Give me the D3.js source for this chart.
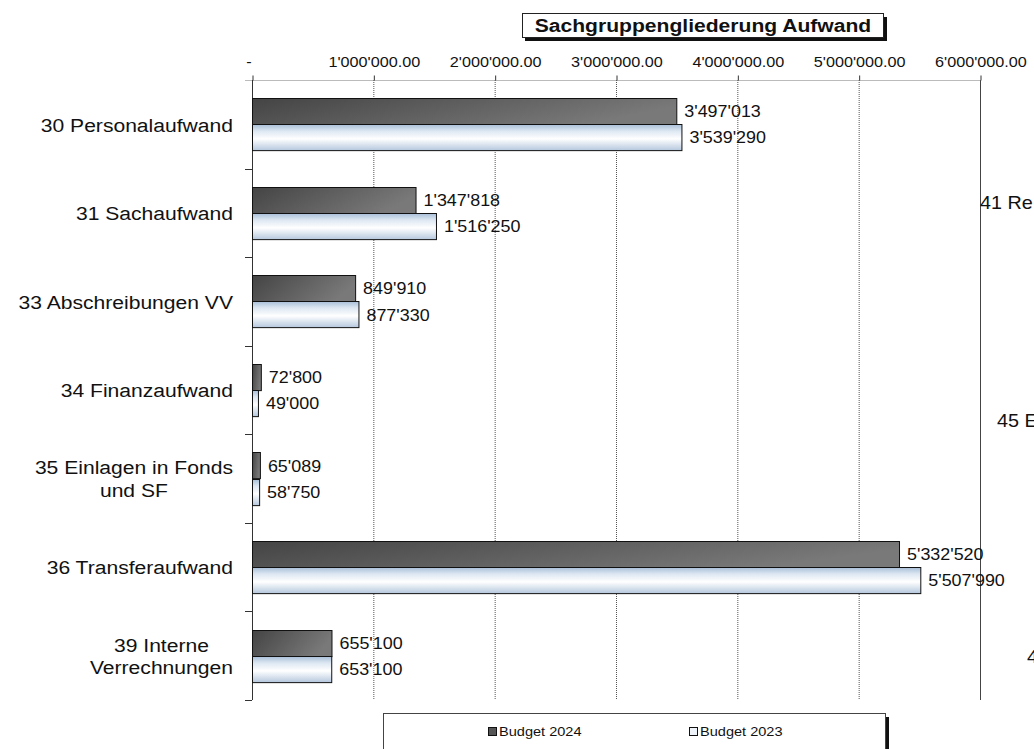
<!DOCTYPE html>
<meta charset="utf-8">
<html>
<head>
<style>
  body { margin: 0; background: #fff; }
  svg { display: block; }
  text { font-family: "Liberation Sans", Arial, sans-serif; fill: #111; }
</style>
<script src="https://d3js.org/d3.v7.min.js"></script>
</head>
<body>
<svg width="1034" height="749"></svg>
<script>
var categories = ["30 Personalaufwand", "31 Sachaufwand", "33 Abschreibungen VV", "34 Finanzaufwand",
  "35 Einlagen in Fonds|und SF", "36 Transferaufwand", "39 Interne|Verrechnungen"];
var budget2024 = [3497013, 1347818, 849910, 72800, 65089, 5332520, 655100];
var budget2023 = [3539290, 1516250, 877330, 49000, 58750, 5507990, 653100];
var seriesNames = ["Budget 2024", "Budget 2023"];
var xTicks = [0, 1000000, 2000000, 3000000, 4000000, 5000000, 6000000];
var sideLabels = [["41 Re", 980, 209], ["45 E", 997, 427], ["4", 1027, 663]];

var svg = d3.select("svg");
var plotL = 252, plotR = 980, plotT = 80, plotB = 700;
var SX = 1.1; // the source text is a bit wider than Liberation Sans

// stretch text horizontally around its own x/y
function stretch(sel, s) {
  sel.each(function() {
    var t = d3.select(this);
    var tx = +t.attr("x") || 0, ty = +t.attr("y") || 0;
    t.attr("transform", "translate(" + tx + "," + ty + ") scale(" + s + ",1) translate(" + (-tx) + "," + (-ty) + ")");
  });
}

var x = d3.scaleLinear().domain([0, 6000000]).range([plotL, plotR]);
var y = d3.scaleBand().domain(categories).range([plotT, plotB]).paddingInner(0.41).paddingOuter(0.205);

var fmt = function(v) { return d3.format(",")(v).replace(/,/g, "'"); };
var tickFmt = function(v) { return v === 0 ? "-" : d3.format(",.2f")(v).replace(/,/g, "'"); };

// gradients
var defs = svg.append("defs");
var gDark = defs.append("linearGradient").attr("id", "gDark").attr("x1", 0).attr("x2", 1).attr("y1", 0).attr("y2", 0.3);
gDark.append("stop").attr("offset", "0%").attr("stop-color", "#444");
gDark.append("stop").attr("offset", "100%").attr("stop-color", "#797979");
var gLight = defs.append("linearGradient").attr("id", "gLight").attr("x1", 0).attr("x2", 0).attr("y1", 0).attr("y2", 1);
gLight.append("stop").attr("offset", "0%").attr("stop-color", "#a9bfd8");
gLight.append("stop").attr("offset", "25%").attr("stop-color", "#dde7f2");
gLight.append("stop").attr("offset", "55%").attr("stop-color", "#ffffff");
gLight.append("stop").attr("offset", "100%").attr("stop-color", "#b4c7dd");

// gridlines
svg.append("g").selectAll("line").data(xTicks.slice(1)).enter().append("line")
  .attr("x1", d => x(d) + 0.5).attr("x2", d => x(d) + 0.5)
  .attr("y1", plotT).attr("y2", plotB)
  .attr("stroke", d => d === 6000000 ? "#444" : "#555")
  .attr("stroke-width", 1)
  .attr("stroke-dasharray", d => d === 6000000 ? null : "1,1");

// top axis
var xAxis = d3.axisTop(x).tickValues(xTicks).tickFormat(tickFmt).tickSize(5).tickPadding(9);
var gx = svg.append("g").attr("transform", "translate(0.5," + (plotT + 0.5) + ")").call(xAxis);
gx.select(".domain").attr("stroke", "#777").attr("stroke-dasharray", "1,1").attr("d", "M" + (plotL - 7) + ",0H" + plotR);
gx.selectAll(".tick line").attr("stroke", "#333");
gx.selectAll(".tick text").attr("font-size", 15).attr("font-family", "Liberation Sans, Arial").attr("fill", "#111");
gx.selectAll(".tick").filter(d => d === 0).select("text").attr("x", -4);
stretch(gx.selectAll(".tick text"), 1.08);

// left axis
svg.append("line").attr("x1", plotL + 0.5).attr("x2", plotL + 0.5).attr("y1", plotT).attr("y2", plotB)
  .attr("stroke", "#333");
var bounds = categories.map(c => y(c) - y.step() * y.paddingInner() / 2).slice(1).concat([plotB]);
svg.append("g").selectAll("line").data(bounds).enter().append("line")
  .attr("x1", plotL - 7).attr("x2", plotL).attr("y1", d => Math.round(d) + 0.5).attr("y2", d => Math.round(d) + 0.5)
  .attr("stroke", "#333");

// category labels: right-aligned block, lines centred within it
var labelRight = 233, labelSX = 1.11;
var cl = svg.append("g").selectAll("text").data(categories).enter().append("text")
  .attr("font-size", 19)
  .attr("y", d => y(d) + y.bandwidth() / 2);
cl.each(function(d) {
  var parts = d.split("|"), t = d3.select(this);
  if (parts.length === 1) {
    t.attr("x", labelRight).attr("text-anchor", "end")
      .append("tspan").attr("x", labelRight).attr("dy", "0.38em").text(parts[0]);
    return;
  }
  t.attr("text-anchor", "middle");
  var spans = parts.map(function(p, i) {
    return t.append("tspan").attr("dy", i === 0 ? "-0.22em" : "1.18em").text(p);
  });
  var w = d3.max(spans, s => s.node().getComputedTextLength()) * labelSX;
  var cx = labelRight - w / 2;
  t.attr("x", cx);
  spans.forEach(s => s.attr("x", cx));
});
stretch(cl, labelSX);

// bars
var bh = y.bandwidth() / 2;
var series = [budget2024, budget2023];
series.forEach(function(vals, s) {
  var g = svg.append("g");
  g.selectAll("rect").data(vals).enter().append("rect")
    .attr("x", x(0) + 0.5)
    .attr("y", (d, i) => Math.round(y(categories[i]) + s * bh) + 0.5)
    .attr("width", d => x(d) - x(0))
    .attr("height", bh)
    .attr("fill", s === 0 ? "url(#gDark)" : "url(#gLight)")
    .attr("stroke", "#111").attr("stroke-width", 1);
  var lt = g.selectAll("text").data(vals).enter().append("text")
    .attr("x", d => x(d) + 8)
    .attr("y", (d, i) => y(categories[i]) + s * bh + bh / 2)
    .attr("dy", "0.38em").attr("font-size", 16)
    .text(d => fmt(d));
  stretch(lt, 1.12);
});

// labels of neighbouring chart, clipped at the right edge
var sl = svg.append("g").selectAll("text").data(sideLabels).enter().append("text")
  .attr("x", d => d[1]).attr("y", d => d[2]).attr("font-size", 18).text(d => d[0]);
stretch(sl, SX);

// title box
var title = svg.append("g");
title.append("rect").attr("x", 525).attr("y", 17).attr("width", 362).attr("height", 24).attr("fill", "#111");
title.append("rect").attr("x", 522.5).attr("y", 13.5).attr("width", 361).attr("height", 24)
  .attr("fill", "#fff").attr("stroke", "#222");
var tt = title.append("text").attr("x", 703).attr("y", 32.5).attr("text-anchor", "middle")
  .attr("font-size", 18.5).attr("font-weight", "bold").text("Sachgruppengliederung Aufwand");
stretch(tt, 1.14);

// legend
var leg = svg.append("g");
leg.append("rect").attr("x", 885).attr("y", 717).attr("width", 4).attr("height", 40).attr("fill", "#111");
leg.append("rect").attr("x", 383.5).attr("y", 713.5).attr("width", 502).attr("height", 50)
  .attr("fill", "#fff").attr("stroke", "#444");
var legX = [488, 689];
seriesNames.forEach(function(n, i) {
  leg.append("rect").attr("x", legX[i] + 0.5).attr("y", 727.5).attr("width", 8).attr("height", 8)
    .attr("fill", i === 0 ? "#555" : "#eef3f9").attr("stroke", "#111");
  var lt = leg.append("text").attr("x", legX[i] + 11).attr("y", 736.5).attr("font-size", 13).text(n);
  stretch(lt, 1.12);
});
</script>
</body>
</html>
